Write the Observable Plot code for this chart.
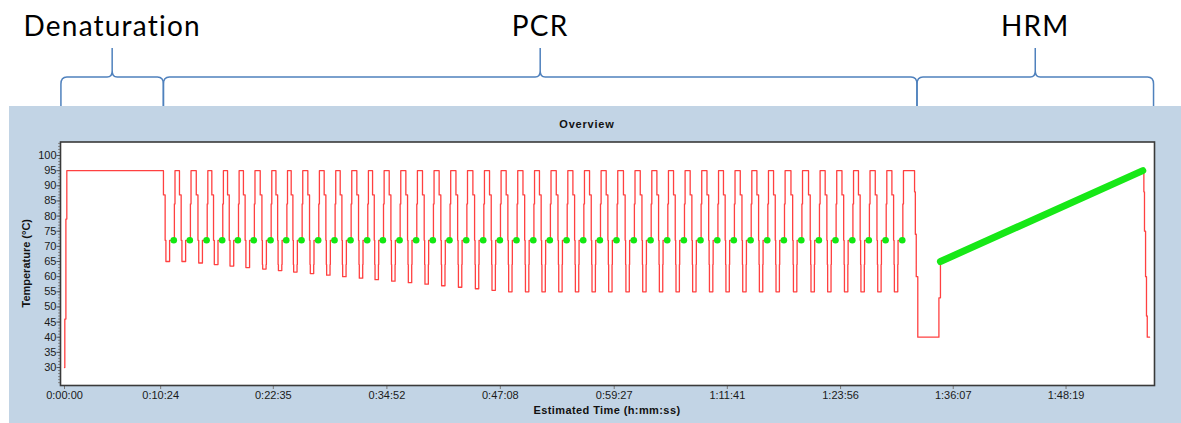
<!DOCTYPE html>
<html>
<head>
<meta charset="utf-8">
<script src="https://cdn.jsdelivr.net/npm/d3@7"></script>
<script src="https://cdn.jsdelivr.net/npm/@observablehq/plot@0.6"></script>
<style>
  body { margin: 0; background: #ffffff; }
  #chart svg { display: block; }
</style>
</head>
<body>
<div id="chart"></div>
<script>
// ---------- data ----------
const phaseNames = ["Denaturation", "PCR", "HRM"];
const phaseStart = [-20, 645, 5535];   // seconds
const phaseEnd   = [645, 5535, 7070];

const xTickLabels = ["0:00:00", "0:10:24", "0:22:35", "0:34:52", "0:47:08",
                     "0:59:27", "1:11:41", "1:23:56", "1:36:07", "1:48:19"];
const yTickValues = [30, 35, 40, 45, 50, 55, 60, 65, 70, 75, 80, 85, 90, 95, 100];

// initial denaturation ramp (time s, temperature °C)
const denatTimes = [0, 2, 9, 15];
const denatTemps = [30, 46, 79, 95];

// PCR: time of each extension marker (s) and anneal temperature per cycle
const extensionTimes = [709, 813, 922, 1023, 1125, 1228, 1337, 1439, 1538, 1646,
                        1752, 1856, 1964, 2066, 2174, 2282, 2390, 2498, 2607, 2717,
                        2825, 2933, 3042, 3149, 3258, 3366, 3474, 3582, 3694, 3803,
                        3911, 4019, 4127, 4236, 4343, 4452, 4560, 4668, 4781, 4895,
                        5003, 5112, 5219, 5328, 5436];
const annealTemps = [65, 65, 64.5, 64, 63.5, 63, 62.5, 62, 61.5, 61,
                     60.5, 60, 59.5, 59, 58.5, 58, 57.5, 57, 56.5, 56,
                     55.5, 55, 55, 55, 55, 55, 55, 55, 55, 55,
                     55, 55, 55, 55, 55, 55, 55, 55, 55, 55,
                     55, 55, 55, 55, 55];
const extensionTemp = 72;
const denatureTemp = 95;

// cool-down before melt
const coolTimes = [5516, 5521, 5527, 5537, 5674, 5684];
const coolTemps = [88, 74, 60, 40, 53, 65];

// high resolution melt ramp
const hrmTimes = [5684, 6997];
const hrmTemps = [65, 95];

// final drop
const finalTimes = [6997, 7004, 7008, 7015, 7021, 7026, 7041];
const finalTemps = [95, 88, 75, 60, 47, 40, 40];

// ---------- build tables ----------
const pts = (ts, vs) => ts.map((t, i) => ({t, v: vs[i]}));
const red = pts(denatTimes, denatTemps);
extensionTimes.forEach((g, i) => {
  const A = annealTemps[i];
  red.push({t: g - 67, v: 87});
  red.push({t: g - 56, v: extensionTemp});
  if (A < 63) red.push({t: g - 53, v: 64});
  red.push({t: g - 51, v: A});
  if (A < 63) red.push({t: g - 29, v: 64});
  red.push({t: g - 27, v: extensionTemp});
  red.push({t: g + 4, v: 84});
  red.push({t: g + 8, v: denatureTemp});
});
red.push(...pts(coolTimes, coolTemps));
const finalPts = pts(finalTimes, finalTemps);
const hrmPts = pts(hrmTimes, hrmTemps);
const extPts = extensionTimes.map(t => ({t, v: extensionTemp}));

const toSec = s => { const [h, m, ss] = s.split(":").map(Number); return h * 3600 + m * 60 + ss; };
const xTickSecs = xTickLabels.map(toSec);
const labelOf = new Map(xTickSecs.map((s, i) => [s, xTickLabels[i]]));
const minorY = d3.range(25, 105, 1);

// ---------- plot ----------
const plot = Plot.plot({
  width: 1181,
  height: 423,
  marginTop: 141.5,
  marginLeft: 60,
  marginRight: 27,
  marginBottom: 38,
  style: {background: "transparent", fontFamily: "'Liberation Sans', Arial, sans-serif",
          fontSize: "11px", color: "#1a1a1a", overflow: "visible"},
  x: {domain: [-26, 7073], label: null},
  y: {domain: [24.06, 104.46], label: null},
  marks: [
    Plot.frame({fill: "white", stroke: "none"}),
    Plot.axisY({ticks: minorY, tickSize: 2, tickFormat: () => "", stroke: "#888", label: null}),
    Plot.axisY({ticks: yTickValues, tickSize: 3.5, tickPadding: 0.5, label: null, stroke: "#555"}),
    Plot.axisX({ticks: xTickSecs, tickFormat: d => labelOf.get(d), tickSize: 4, tickPadding: 2, label: null, stroke: "#777"}),
    Plot.line(red, {x: "t", y: "v", curve: "step-after", stroke: "#ff4040", strokeWidth: 1.3}),
    Plot.line(finalPts, {x: "t", y: "v", curve: "step-after", stroke: "#ff4040", strokeWidth: 1.3}),
    Plot.line(hrmPts, {x: "t", y: "v", stroke: "#17e817", strokeWidth: 7, strokeLinecap: "round"}),
    Plot.dot(extPts, {x: "t", y: "v", r: 3.3, fill: "#12e812", stroke: "none", symbol: "circle"}),
    Plot.frame({stroke: "#3a3a3a", strokeWidth: 1.6})
  ]
});

const svg = d3.select(plot);
const xs = plot.scale("x");
const ys = plot.scale("y");

// light blue panel behind the chart
svg.insert("rect", ":first-child")
  .attr("x", 9).attr("y", 106).attr("width", 1181 - 9).attr("height", 423 - 106)
  .attr("fill", "#c2d4e5");

// title and axis labels
const [fx0, fx1] = xs.range;
const [fy0, fy1] = ys.range;
svg.append("text").text("Overview")
  .attr("x", 587).attr("y", 128).attr("text-anchor", "middle")
  .attr("font-weight", "bold").attr("font-size", 11).attr("letter-spacing", "0.8px").attr("fill", "#111");
svg.append("text").text("Estimated Time (h:mm:ss)")
  .attr("x", (fx0 + fx1) / 2).attr("y", 414).attr("text-anchor", "middle")
  .attr("font-weight", "bold").attr("font-size", 11).attr("letter-spacing", "0.4px").attr("fill", "#111");
svg.append("text").text("Temperature (°C)")
  .attr("transform", `translate(30,${(fy0 + fy1) / 2}) rotate(-90)`).attr("text-anchor", "middle")
  .attr("font-weight", "bold").attr("font-size", 11).attr("fill", "#111");

// phase braces and labels
phaseNames.forEach((name, i) => {
  const x0 = xs.apply(phaseStart[i]);
  const x1 = xs.apply(phaseEnd[i]);
  const xm = (x0 + x1) / 2;
  const path = `M${x0},106 V84 Q${x0},77 ${x0 + 6},77 H${xm - 5} Q${xm},77 ${xm},71 V48 ` +
               `M${xm},71 Q${xm},77 ${xm + 5},77 H${x1 - 6} Q${x1},77 ${x1},84 V106`;
  svg.append("path").attr("d", path).attr("fill", "none")
    .attr("stroke", "#4f81bd").attr("stroke-width", 1.5);
  svg.append("text").text(name)
    .attr("x", xm).attr("y", 36).attr("text-anchor", "middle")
    .attr("font-family", "Lato, 'Open Sans', sans-serif").attr("font-size", 28)
    .attr("letter-spacing", "1.2px").attr("fill", "#000");
});

document.getElementById("chart").appendChild(plot);
</script>
</body>
</html>
